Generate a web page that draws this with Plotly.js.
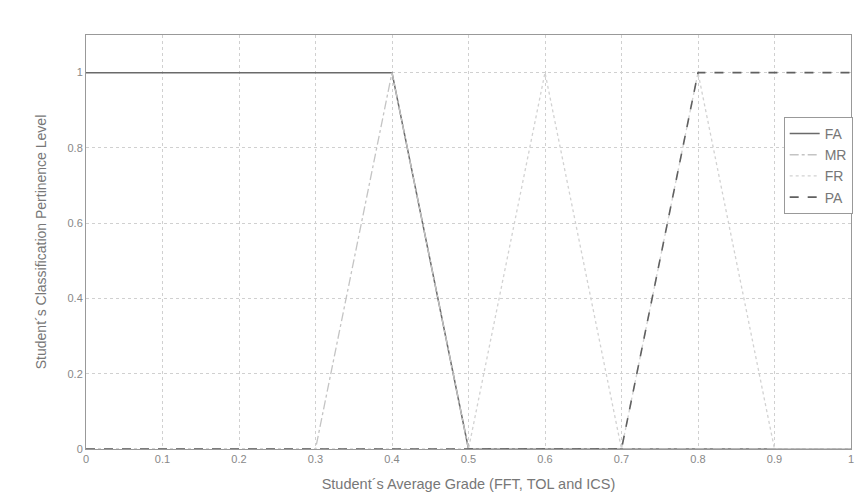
<!DOCTYPE html>
<html><head><meta charset="utf-8">
<script src="https://cdn.plot.ly/plotly-3.0.1.min.js"></script>
<style>html,body{margin:0;padding:0;background:#fff}#c{width:859px;height:493px}</style>
</head><body><div id="c"></div>
<script>
const faX = [0, 0.4, 0.5, 1];
const faY = [1, 1, 0, 0];
const mrX = [0, 0.3, 0.4, 0.5, 1];
const mrY = [0, 0, 1, 0, 0];
const frX = [0, 0.5, 0.6, 0.7, 0.8, 0.9, 1];
const frY = [0, 0, 1, 0, 1, 0, 0];
const paX = [0, 0.7, 0.8, 1];
const paY = [0, 0, 1, 1];
const xTicks = [0, 0.1, 0.2, 0.3, 0.4, 0.5, 0.6, 0.7, 0.8, 0.9, 1];
const yTicks = [0, 0.2, 0.4, 0.6, 0.8, 1];

const traces = [
  {x: faX, y: faY, name: 'FA', mode: 'lines', line: {color: '#6a6a6a', width: 1.5}},
  {x: mrX, y: mrY, name: 'MR', mode: 'lines', line: {color: '#c4c4c4', width: 1.3, dash: 'dashdot'}},
  {x: frX, y: frY, name: 'FR', mode: 'lines', line: {color: '#d2d2d2', width: 1.3, dash: 'dot'}},
  {x: paX, y: paY, name: 'PA', mode: 'lines', line: {color: '#606060', width: 1.6, dash: 'dash'}}
];
const layout = {
  width: 859, height: 493,
  margin: {l: 86, r: 6, t: 35, b: 44},
  paper_bgcolor: '#fff', plot_bgcolor: '#fff',
  font: {family: 'Liberation Sans, Arial, sans-serif', color: '#777'},
  showlegend: true,
  legend: {x: 0.912, y: 0.802, xanchor: 'left', yanchor: 'top', bgcolor: '#fff',
    bordercolor: '#999', borderwidth: 1, font: {size: 14, color: '#777'}, tracegroupgap: 0},
  xaxis: {range: [0, 1], tickvals: xTicks, ticktext: xTicks.map(String),
    showgrid: true, gridcolor: '#d0d0d0', griddash: 'dot', gridwidth: 1,
    zeroline: false, showline: true, linecolor: '#999', mirror: true,
    ticks: '', tickfont: {size: 11, color: '#888'},
    title: {text: 'Student´s Average Grade (FFT, TOL and ICS)', font: {size: 14.5, color: '#777'}, standoff: 14}},
  yaxis: {range: [0, 1.1], tickvals: yTicks, ticktext: yTicks.map(String),
    showgrid: true, gridcolor: '#d0d0d0', griddash: 'dot', gridwidth: 1,
    zeroline: false, showline: true, linecolor: '#999', mirror: true,
    ticks: '', tickfont: {size: 11, color: '#888'},
    title: {text: 'Student´s Classification Pertinence Level', font: {size: 14, color: '#777'}, standoff: 17}}
};
Plotly.newPlot('c', traces, layout, {displayModeBar: false, staticPlot: true});
</script></body></html>
